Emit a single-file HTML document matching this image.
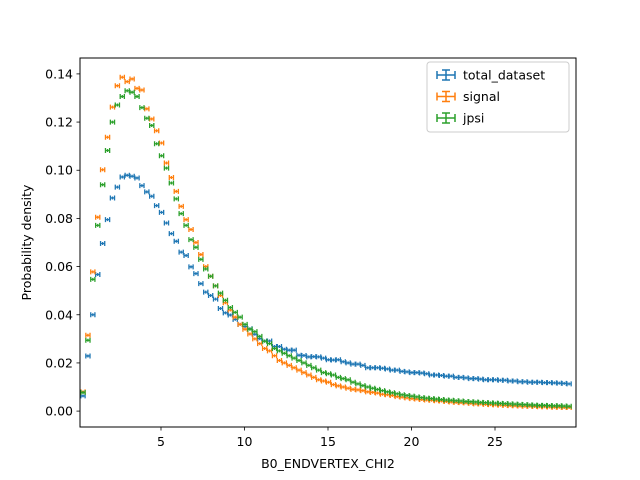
<!DOCTYPE html>
<html><head><meta charset="utf-8"><style>
body{margin:0;background:#fff;}
svg{display:block;font-family:"DejaVu Sans","Liberation Sans",sans-serif;}
</style></head><body>
<svg id="chart" width="640" height="480" viewBox="0 0 640 480">
<rect x="0" y="0" width="640" height="480" fill="#fff"/>
<g id="marks"></g>
<rect x="80" y="58" width="496" height="369" fill="none" stroke="#000" stroke-width="1"/>
<g id="axes"></g>
<text x="328" y="468" text-anchor="middle" font-size="12.5">B0_ENDVERTEX_CHI2</text>
<text transform="translate(31,242.5) rotate(-90)" text-anchor="middle" font-size="12.5">Probability density</text>
<g>
<rect x="427" y="62" width="142" height="70" rx="3" fill="#fff" fill-opacity="0.8" stroke="#ccc"/>
<g id="legend-items"></g>
</g>
</svg>
<script>
const binStart = 0.33;
const binStep = 0.294;
const seriesNames = ["total_dataset","signal","jpsi"];
const seriesColors = ["#1f77b4","#ff7f0e","#2ca02c"];
const totalValues = [0.0063,0.0229,0.040,0.0567,0.0696,0.0795,0.0885,0.093,0.0972,0.0979,0.0975,0.0968,0.0936,0.091,0.0892,0.0853,0.0825,0.0781,0.0737,0.0705,0.066,0.0646,0.0599,
0.0571,0.0529,0.0494,0.048,0.0465,0.0426,0.0408,0.0399,0.0381,0.036,0.0351,0.0342,0.0319,0.0301,0.0291,0.0291,0.0268,0.0268,0.0257,0.0253,0.0253,0.0232,0.0231,0.0225,0.0226,0.0225,0.022,0.0213,0.0212,0.0213,0.0205,
0.020,0.0195,0.0195,0.019,0.018,0.018,0.018,0.0178,0.0175,0.017,0.017,0.0165,0.0163,0.016,0.016,0.0158,0.0155,0.015,0.015,0.0148,0.0145,0.0145,0.014,0.014,0.0138,0.0135,0.0135,0.0133,0.013,0.013,0.013,0.0128,0.0128,0.0125,0.0125,0.0122,0.0122,0.012,0.012,0.012,0.0118,0.0118,0.0117,0.0116,0.0115,0.0113];
const signalValues = [0.008,0.0315,0.0578,0.0805,0.1002,0.1137,0.1262,0.1351,0.1386,0.1368,0.1379,0.134,0.1333,0.1255,0.1213,0.1164,0.1113,0.103,0.097,0.0912,0.085,0.0795,0.0754,
0.070,0.065,0.060,0.056,0.052,0.048,0.045,0.042,0.039,0.036,0.034,0.032,0.030,0.028,0.026,0.025,0.023,0.021,0.020,0.019,0.018,0.017,0.016,0.015,0.014,0.013,0.0125,0.012,0.011,0.0105,0.010,0.0095,
0.009,0.0088,0.0085,0.008,0.0078,0.0075,0.007,0.0068,0.0065,0.006,0.0058,0.0055,0.0052,0.005,0.0048,0.0046,0.0045,0.0043,0.0042,0.004,0.0038,0.0036,0.0035,0.0034,0.0032,0.003,0.003,0.0028,0.0027,0.0026,0.0025,0.0024,0.0023,0.0022,0.0021,0.002,0.002,0.0019,0.0018,0.0018,0.0017,0.0016,0.0016,0.0015,0.0015];
const jpsiValues = [0.0077,0.0294,0.0547,0.0771,0.094,0.1082,0.12,0.1271,0.1306,0.133,0.1324,0.1306,0.126,0.1216,0.1186,0.111,0.106,0.1009,0.0947,0.0881,0.082,0.0771,0.0712,
0.068,0.063,0.059,0.056,0.052,0.049,0.046,0.043,0.041,0.039,0.036,0.034,0.033,0.031,0.029,0.028,0.026,0.025,0.024,0.023,0.022,0.021,0.020,0.019,0.018,0.017,0.016,0.0155,0.015,0.014,0.0135,0.013,
0.012,0.0113,0.0106,0.010,0.0095,0.009,0.0085,0.008,0.0076,0.0072,0.0068,0.0065,0.0062,0.0059,0.0056,0.0054,0.0052,0.005,0.0048,0.0046,0.0045,0.0043,0.0042,0.004,0.0039,0.0038,0.0036,0.0035,0.0034,0.0033,0.0032,0.0031,0.003,0.0029,0.0028,0.0027,0.0026,0.0025,0.0024,0.0024,0.0023,0.0022,0.0022,0.0021,0.002];
const xTicks = [5,10,15,20,25];
const yTicks = [0,0.02,0.04,0.06,0.08,0.10,0.12,0.14];
const yTickLabels = ["0.00","0.02","0.04","0.06","0.08","0.10","0.12","0.14"];

const NS="http://www.w3.org/2000/svg";
const X0=0.15,X1=29.85,PX0=80,PX1=576;
const Y0=-0.0066,Y1=0.1466,PY0=427,PY1=58;
function xs(v){return PX0+(v-X0)/(X1-X0)*(PX1-PX0);}
function ys(v){return PY0+(v-Y0)/(Y1-Y0)*(PY1-PY0);}
function mk(tag,attrs,parent){const e=document.createElementNS(NS,tag);for(const k in attrs)e.setAttribute(k,attrs[k]);parent.appendChild(e);return e;}

const axes=document.getElementById('axes');
xTicks.forEach(t=>{
  const g=mk('g',{},axes);
  
  
  mk('line',{x1:xs(t),x2:xs(t),y1:427,y2:430.5,stroke:'#000','stroke-width':0.8},g);
  const tx=mk('text',{x:xs(t),y:446,'text-anchor':'middle','font-size':'12.5'},g);tx.textContent=t;
});
yTicks.forEach((t,i)=>{
  const g=mk('g',{},axes);
  
  
  mk('line',{x1:76.5,x2:80,y1:ys(t),y2:ys(t),stroke:'#000','stroke-width':0.8},g);
  const tx=mk('text',{x:73,y:ys(t)+4.5,'text-anchor':'end','font-size':'12.5'},g);tx.textContent=yTickLabels[i];
});

const marks=document.getElementById('marks');
const allSeries=[totalValues,signalValues,jpsiValues];
const hw=binStep/2;
allSeries.forEach((vals,si)=>{
  const g=mk('g',{stroke:seriesColors[si],'stroke-width':1.3,fill:'none'},marks);
  
  
  vals.forEach((v,i)=>{
    const xc=binStart+binStep*i;
    const xa=xs(xc-hw*0.85),xb=xs(xc+hw*0.85),xm=xs(xc),y=ys(v);
    const ey=1.5;
    const p=mk('path',{d:`M${xa},${y}H${xb}M${xa},${y-2.5}V${y+2.5}M${xb},${y-2.5}V${y+2.5}M${xm},${y-ey}V${y+ey}`},g);
    
    
  });
});

const li=document.getElementById('legend-items');
seriesNames.forEach((n,i)=>{
  const y=75+i*21.5;
  const g=mk('g',{},li);
  
  
  const c=seriesColors[i];
  mk('path',{d:`M437,${y}H455M437,${y-4}V${y+4}M455,${y-4}V${y+4}M446,${y-5}V${y+5}M442,${y-5}H450M442,${y+5}H450`,stroke:c,'stroke-width':1.5,fill:'none'},g);
  const t=mk('text',{x:463,y:y+4.5,'font-size':'12.5'},g);t.textContent=n;
});
</script>
</body></html>
